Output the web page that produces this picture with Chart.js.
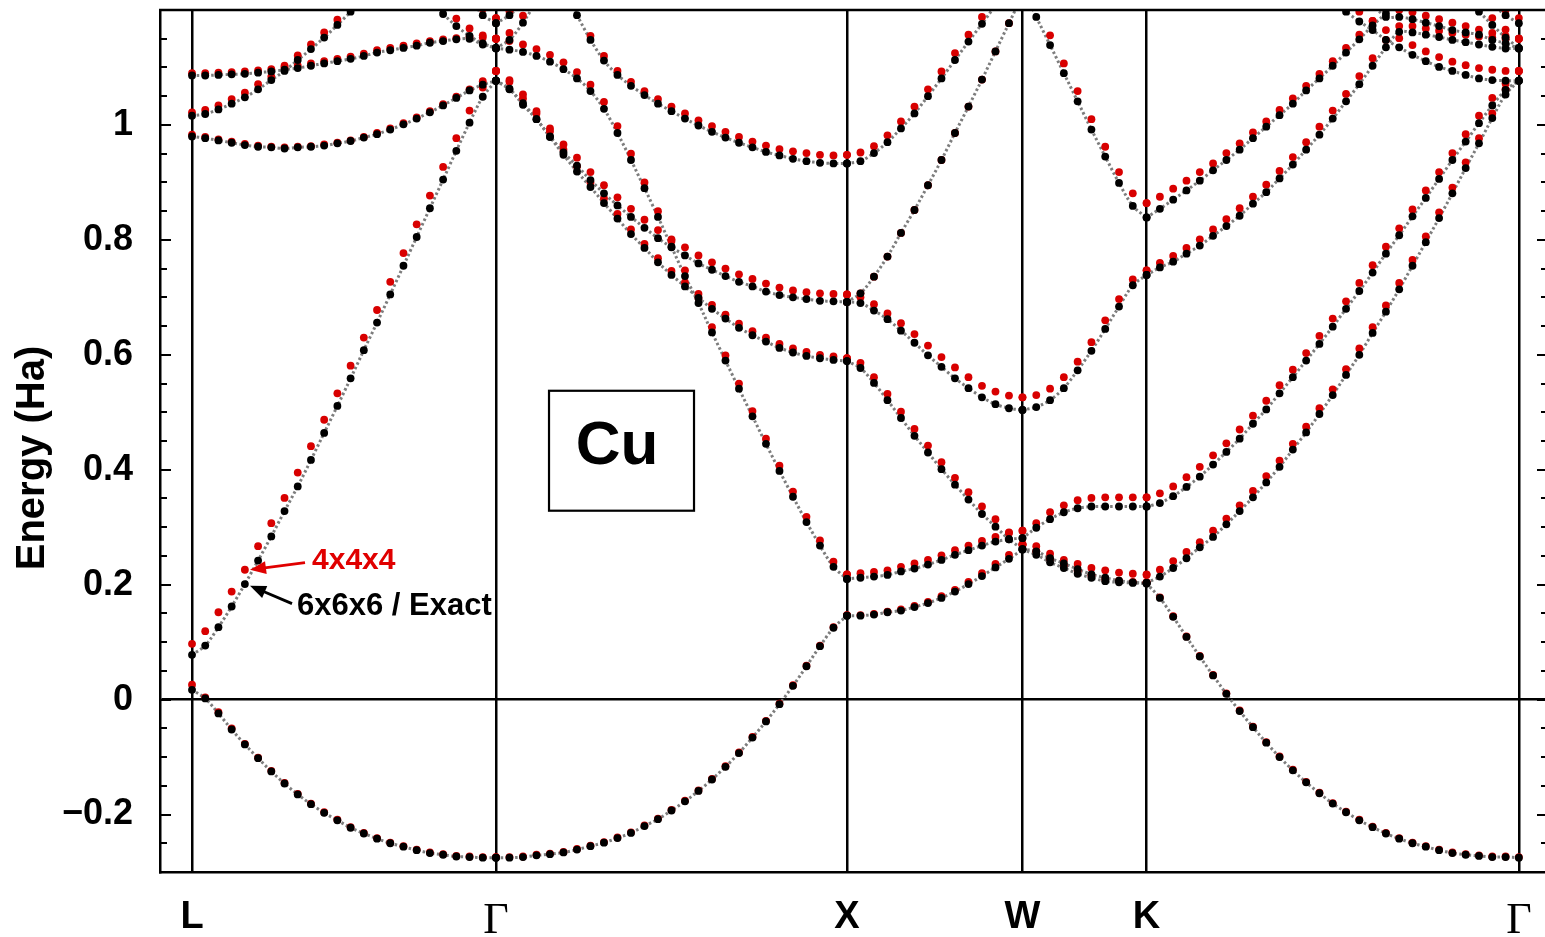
<!DOCTYPE html>
<html>
<head>
<meta charset="utf-8">
<title>Cu bands</title>
<script src="https://cdn.jsdelivr.net/npm/chart.js@4.4.1/dist/chart.umd.min.js"></script>
<style>
  html, body { margin: 0; padding: 0; background: #fff; overflow: hidden; }
  #wrap { width: 1560px; height: 937px; }
</style>
</head>
<body>
<div id="wrap"><canvas id="bands" width="1560" height="937"></canvas></div>
<script>
// k-path through the fcc zone, distances in units of 2pi/a
const symLabels = ["L", "Γ", "X", "W", "K", "Γ"];
const symPos = [0, 0.8660, 1.8660, 2.3660, 2.7196, 3.7802];
const segSteps = [23, 26, 13, 9, 28];   // k-point intervals per segment

// band energies (Ha); "4" suffix = 4x4x4 interpolation, plain = 6x6x6 / exact
// L -> Gamma
const LG_A  = [0.017, 0.002, -0.024, -0.052, -0.078, -0.102, -0.125, -0.146, -0.165, -0.182, -0.197, -0.210, -0.223, -0.233, -0.242, -0.250, -0.256, -0.262, -0.267, -0.270, -0.273, -0.274, -0.275, -0.275];
const LG_A4 = [0.026, 0.004, -0.022, -0.050, -0.077, -0.101, -0.124, -0.145, -0.164, -0.181, -0.196, -0.209, -0.222, -0.232, -0.241, -0.249, -0.255, -0.261, -0.266, -0.269, -0.272, -0.273, -0.274, -0.274];
const LG_B  = [0.078, 0.094, 0.126, 0.162, 0.201, 0.242, 0.284, 0.328, 0.371, 0.417, 0.464, 0.511, 0.559, 0.608, 0.656, 0.705, 0.755, 0.805, 0.855, 0.905, 0.955, 1.004, 1.049, 1.077];
const LG_B4 = [0.097, 0.119, 0.152, 0.188, 0.226, 0.267, 0.307, 0.351, 0.395, 0.441, 0.487, 0.533, 0.581, 0.630, 0.678, 0.727, 0.777, 0.827, 0.877, 0.927, 0.977, 1.025, 1.065, 1.094];
const LG_C  = [0.980, 0.977, 0.973, 0.969, 0.965, 0.962, 0.961, 0.959, 0.961, 0.962, 0.964, 0.968, 0.972, 0.978, 0.984, 0.992, 1.001, 1.011, 1.022, 1.034, 1.047, 1.060, 1.070, 1.077];
const LG_C4 = [0.983, 0.979, 0.975, 0.971, 0.967, 0.964, 0.962, 0.961, 0.962, 0.963, 0.966, 0.969, 0.973, 0.979, 0.986, 0.994, 1.003, 1.013, 1.024, 1.036, 1.049, 1.062, 1.076, 1.094];
const LG_D  = [1.016, 1.019, 1.027, 1.037, 1.048, 1.062, 1.078, 1.094, 1.113, 1.132, 1.152, 1.174, 1.197, 1.222];
const LG_D4 = [1.022, 1.026, 1.034, 1.045, 1.056, 1.071, 1.084, 1.103, 1.121, 1.140, 1.161, 1.183, 1.206];
const LG_E  = [1.086, 1.086, 1.087, 1.088, 1.089, 1.091, 1.093, 1.096, 1.099, 1.103, 1.107, 1.111, 1.115, 1.120, 1.126, 1.130, 1.134, 1.138, 1.143, 1.146, 1.149, 1.150, 1.140, 1.134];
const LG_E4 = [1.090, 1.090, 1.091, 1.092, 1.093, 1.095, 1.097, 1.100, 1.103, 1.107, 1.111, 1.115, 1.119, 1.124, 1.130, 1.134, 1.138, 1.142, 1.146, 1.149, 1.151, 1.153, 1.152, 1.150];
const LG_F  = [1.216, 1.193, 1.172, 1.155, 1.142, 1.134];
const LG_F4 = [1.230, 1.205, 1.185, 1.168, 1.156, 1.150];
const LG_G  = [1.222, 1.191, 1.177];
const LG_G4 = [1.235, 1.202, 1.186];

// Gamma -> X
const GX_A  = [-0.275, -0.275, -0.274, -0.271, -0.269, -0.266, -0.261, -0.255, -0.249, -0.241, -0.232, -0.220, -0.208, -0.193, -0.177, -0.159, -0.139, -0.117, -0.093, -0.066, -0.038, -0.008, 0.024, 0.058, 0.093, 0.125, 0.146];
const GX_A4 = [-0.274, -0.274, -0.273, -0.270, -0.268, -0.265, -0.260, -0.254, -0.248, -0.240, -0.231, -0.219, -0.207, -0.192, -0.176, -0.158, -0.138, -0.116, -0.092, -0.065, -0.037, -0.007, 0.025, 0.059, 0.094, 0.126, 0.147];
const GX_H  = [1.133, 1.131, 1.127, 1.120, 1.110, 1.097, 1.081, 1.059, 1.028, 0.986, 0.939, 0.890, 0.840, 0.788, 0.737, 0.690, 0.639, 0.590, 0.541, 0.493, 0.445, 0.398, 0.353, 0.309, 0.268, 0.231, 0.210];
const GX_H4 = [1.150, 1.146, 1.140, 1.132, 1.122, 1.109, 1.092, 1.070, 1.040, 0.998, 0.950, 0.900, 0.850, 0.798, 0.747, 0.699, 0.648, 0.599, 0.550, 0.502, 0.454, 0.407, 0.362, 0.318, 0.277, 0.240, 0.218];
const GX_I  = [1.077, 1.062, 1.038, 1.010, 0.980, 0.952, 0.929, 0.904, 0.881, 0.860, 0.840, 0.821, 0.803, 0.787, 0.773, 0.759, 0.748, 0.737, 0.727, 0.719, 0.710, 0.704, 0.700, 0.697, 0.694, 0.693, 0.692];
const GX_I4 = [1.094, 1.078, 1.053, 1.024, 0.994, 0.966, 0.943, 0.918, 0.895, 0.874, 0.854, 0.835, 0.817, 0.801, 0.787, 0.773, 0.761, 0.750, 0.740, 0.732, 0.724, 0.717, 0.712, 0.709, 0.707, 0.706, 0.705];
const GX_J  = [1.077, 1.063, 1.035, 1.010, 0.979, 0.948, 0.919, 0.892, 0.864, 0.837, 0.810, 0.786, 0.761, 0.739, 0.719, 0.699, 0.680, 0.663, 0.647, 0.634, 0.623, 0.612, 0.604, 0.598, 0.594, 0.591, 0.589];
const GX_J4 = [1.094, 1.075, 1.046, 1.020, 0.989, 0.957, 0.928, 0.900, 0.872, 0.845, 0.818, 0.793, 0.768, 0.746, 0.726, 0.706, 0.687, 0.670, 0.654, 0.641, 0.630, 0.619, 0.611, 0.605, 0.600, 0.597, 0.594];
const GX_K  = [1.235, 1.191, 1.148, 1.112, 1.087, 1.068, 1.052, 1.037, 1.024, 1.011, 0.999, 0.988, 0.978, 0.969, 0.961, 0.953, 0.947, 0.941, 0.937, 0.934, 0.933, 0.933];
const GX_K4 = [1.250, 1.205, 1.155, 1.120, 1.094, 1.075, 1.059, 1.045, 1.032, 1.020, 1.008, 0.998, 0.988, 0.979, 0.971, 0.964, 0.958, 0.954, 0.951, 0.948, 0.947, 0.948];
const GX_F  = [1.134, 1.148, 1.178, 1.215];
const GX_F4 = [1.150, 1.160, 1.190, 1.228];
const GX_G  = [1.177, 1.191, 1.212];
const GX_G4 = [1.186, 1.198, 1.222];

// X -> W
const XW_A  = [0.146, 0.146, 0.148, 0.152, 0.155, 0.161, 0.168, 0.177, 0.188, 0.201, 0.215, 0.230, 0.245, 0.261];
const XW_A4 = [0.147, 0.147, 0.149, 0.153, 0.157, 0.163, 0.170, 0.180, 0.191, 0.205, 0.220, 0.236, 0.252, 0.270];
const XW_H  = [0.210, 0.212, 0.214, 0.217, 0.223, 0.228, 0.235, 0.243, 0.252, 0.260, 0.268, 0.275, 0.279, 0.281];
const XW_H4 = [0.218, 0.220, 0.222, 0.225, 0.231, 0.237, 0.243, 0.251, 0.260, 0.268, 0.276, 0.283, 0.290, 0.294];
const XW_J  = [0.589, 0.577, 0.551, 0.521, 0.490, 0.459, 0.430, 0.401, 0.374, 0.348, 0.323, 0.301, 0.279, 0.262];
const XW_J4 = [0.594, 0.586, 0.561, 0.532, 0.501, 0.471, 0.442, 0.413, 0.386, 0.361, 0.336, 0.314, 0.291, 0.270];
const XW_I  = [0.692, 0.690, 0.677, 0.662, 0.642, 0.621, 0.599, 0.579, 0.559, 0.542, 0.526, 0.514, 0.507, 0.504];
const XW_I4 = [0.705, 0.700, 0.688, 0.672, 0.655, 0.636, 0.616, 0.596, 0.578, 0.561, 0.546, 0.536, 0.529, 0.526];
const XW_S  = [0.692, 0.707, 0.736, 0.771, 0.812, 0.852, 0.895, 0.939, 0.986, 1.032, 1.079, 1.128, 1.177, 1.226];
const XW_K  = [0.933, 0.937, 0.951, 0.970, 0.994, 1.020, 1.050, 1.081, 1.113, 1.145, 1.176, 1.208];
const XW_K4 = [0.948, 0.952, 0.963, 0.982, 1.006, 1.032, 1.062, 1.093, 1.125, 1.157, 1.188, 1.220];

// W -> K
const WK_N  = [1.240, 1.188, 1.139, 1.090, 1.041, 0.992, 0.945, 0.899, 0.859, 0.839];
const WK_N4 = [1.260, 1.205, 1.156, 1.107, 1.059, 1.010, 0.962, 0.918, 0.881, 0.864];
const WK_I  = [0.504, 0.509, 0.521, 0.542, 0.573, 0.607, 0.645, 0.684, 0.721, 0.739];
const WK_I4 = [0.526, 0.530, 0.541, 0.561, 0.588, 0.622, 0.660, 0.697, 0.731, 0.747];
const WK_H  = [0.281, 0.299, 0.314, 0.326, 0.333, 0.336, 0.336, 0.336, 0.336, 0.336];
const WK_H4 = [0.294, 0.307, 0.326, 0.338, 0.347, 0.351, 0.352, 0.352, 0.352, 0.352];
const WK_J  = [0.262, 0.258, 0.246, 0.237, 0.227, 0.218, 0.212, 0.207, 0.204, 0.203];
const WK_J4 = [0.270, 0.267, 0.254, 0.243, 0.236, 0.229, 0.225, 0.221, 0.219, 0.218];
const WK_A  = [0.261, 0.252, 0.239, 0.229, 0.219, 0.212, 0.206, 0.204, 0.203, 0.202];
const WK_A4 = [0.270, 0.258, 0.245, 0.234, 0.224, 0.216, 0.210, 0.207, 0.205, 0.204];

// K -> Gamma
const KG_A  = [0.202, 0.177, 0.144, 0.109, 0.075, 0.042, 0.010, -0.020, -0.048, -0.075, -0.100, -0.123, -0.144, -0.163, -0.181, -0.196, -0.210, -0.222, -0.233, -0.242, -0.250, -0.256, -0.262, -0.267, -0.270, -0.272, -0.274, -0.274, -0.275];
const KG_A4 = [0.204, 0.178, 0.145, 0.110, 0.076, 0.043, 0.011, -0.019, -0.047, -0.074, -0.099, -0.122, -0.143, -0.162, -0.180, -0.195, -0.209, -0.221, -0.232, -0.241, -0.249, -0.255, -0.261, -0.266, -0.269, -0.271, -0.273, -0.273, -0.274];
const KG_J  = [0.203, 0.214, 0.229, 0.246, 0.265, 0.283, 0.305, 0.328, 0.352, 0.378, 0.405, 0.435, 0.465, 0.497, 0.530, 0.565, 0.600, 0.638, 0.675, 0.714, 0.755, 0.796, 0.838, 0.881, 0.925, 0.968, 1.012, 1.053, 1.077];
const KG_J4 = [0.217, 0.226, 0.241, 0.257, 0.274, 0.294, 0.315, 0.338, 0.363, 0.389, 0.416, 0.445, 0.475, 0.507, 0.540, 0.575, 0.611, 0.648, 0.686, 0.725, 0.765, 0.806, 0.848, 0.891, 0.935, 0.977, 1.020, 1.062, 1.094];
const KG_H  = [0.336, 0.342, 0.354, 0.370, 0.388, 0.409, 0.431, 0.454, 0.480, 0.505, 0.533, 0.561, 0.590, 0.619, 0.649, 0.680, 0.711, 0.743, 0.776, 0.808, 0.841, 0.873, 0.906, 0.939, 0.971, 1.003, 1.034, 1.061, 1.077];
const KG_H4 = [0.352, 0.359, 0.371, 0.387, 0.405, 0.425, 0.446, 0.470, 0.494, 0.520, 0.547, 0.574, 0.603, 0.633, 0.663, 0.693, 0.725, 0.756, 0.788, 0.820, 0.853, 0.886, 0.918, 0.951, 0.984, 1.016, 1.047, 1.072, 1.094];
const KG_I  = [0.739, 0.752, 0.762, 0.776, 0.790, 0.807, 0.824, 0.842, 0.863, 0.883, 0.907, 0.931, 0.957, 0.983, 1.011, 1.041, 1.071, 1.103, 1.135, 1.162, 1.161, 1.157, 1.153, 1.148, 1.144, 1.140, 1.136, 1.133, 1.133];
const KG_I4 = [0.747, 0.760, 0.772, 0.786, 0.801, 0.818, 0.836, 0.855, 0.875, 0.896, 0.920, 0.944, 0.970, 0.997, 1.025, 1.054, 1.085, 1.116, 1.148, 1.172, 1.172, 1.168, 1.164, 1.160, 1.157, 1.154, 1.152, 1.150, 1.150];
const KG_K  = [0.839, 0.854, 0.870, 0.886, 0.903, 0.921, 0.939, 0.957, 0.977, 0.997, 1.017, 1.037, 1.060, 1.081, 1.103, 1.126, 1.149, 1.173, 1.194, 1.215];
const KG_K4 = [0.864, 0.875, 0.889, 0.903, 0.918, 0.933, 0.951, 0.968, 0.987, 1.006, 1.026, 1.046, 1.068, 1.089, 1.111, 1.134, 1.157, 1.181, 1.203, 1.225];
const KG_M  = [1.215, 1.197, 1.180, 1.165, 1.148, 1.135, 1.122, 1.111, 1.101, 1.094, 1.087, 1.081, 1.078, 1.077, 1.077];
const KG_M4 = [1.232, 1.214, 1.197, 1.181, 1.165, 1.151, 1.139, 1.128, 1.118, 1.110, 1.104, 1.099, 1.096, 1.094, 1.094];
const KG_P  = [1.210, 1.188, 1.188, 1.184, 1.178, 1.172, 1.165, 1.161, 1.157, 1.148, 1.142, 1.133];
const KG_P4 = [1.225, 1.202, 1.200, 1.196, 1.190, 1.184, 1.178, 1.172, 1.166, 1.160, 1.155, 1.150];
const KG_Q  = [1.218, 1.197, 1.174, 1.152, 1.134];
const KG_Q4 = [1.228, 1.208, 1.186, 1.166, 1.150];
const KG_G  = [1.210, 1.191, 1.177];
const KG_G4 = [1.222, 1.200, 1.186];

// [segment, first k index, exact, 4x4x4]
const pieces = [
  [0, 0, LG_A, LG_A4], [0, 0, LG_B, LG_B4], [0, 0, LG_C, LG_C4], [0, 0, LG_D, LG_D4],
  [0, 0, LG_E, LG_E4], [0, 18, LG_F, LG_F4], [0, 21, LG_G, LG_G4],
  [1, 0, GX_A, GX_A4], [1, 0, GX_H, GX_H4], [1, 0, GX_I, GX_I4], [1, 0, GX_J, GX_J4],
  [1, 5, GX_K, GX_K4], [1, 0, GX_F, GX_F4], [1, 0, GX_G, GX_G4],
  [2, 0, XW_A, XW_A4], [2, 0, XW_H, XW_H4], [2, 0, XW_J, XW_J4], [2, 0, XW_I, XW_I4],
  [2, 0, XW_S, XW_S], [2, 0, XW_K, XW_K4],
  [3, 0, WK_N, WK_N4], [3, 0, WK_I, WK_I4], [3, 0, WK_H, WK_H4], [3, 0, WK_J, WK_J4], [3, 0, WK_A, WK_A4],
  [4, 0, KG_A, KG_A4], [4, 0, KG_J, KG_J4], [4, 0, KG_H, KG_H4], [4, 0, KG_I, KG_I4],
  [4, 0, KG_K, KG_K4], [4, 14, KG_M, KG_M4], [4, 17, KG_P, KG_P4], [4, 24, KG_Q, KG_Q4], [4, 26, KG_G, KG_G4]
];

const SANS = '"Liberation Sans", Arial, Helvetica, sans-serif';
const SERIF = '"Liberation Serif", "Times New Roman", serif';
const DOT = 3.9;

// abscissa of k-point i on segment s
function kAt(s, i) {
  return symPos[s] + (symPos[s + 1] - symPos[s]) * i / segSteps[s];
}
function toPts(s, start, vals) {
  return vals.map((v, i) => ({ x: kAt(s, start + i), y: v }));
}

const datasets = [];
pieces.forEach(([s, start, exact, coarse]) => {
  // exact: black dots on top
  datasets.push({
    data: toPts(s, start, exact), showLine: false, order: 1, clip: 0,
    pointRadius: DOT, pointBackgroundColor: "#000", pointBorderWidth: 0
  });
  // 4x4x4: red dots
  datasets.push({
    data: toPts(s, start, coarse), showLine: false, order: 2, clip: 0,
    pointRadius: DOT, pointBackgroundColor: "#d80000", pointBorderWidth: 0
  });
  // dotted guide through the exact bands
  datasets.push({
    data: toPts(s, start, exact), showLine: true, order: 3, clip: 0,
    borderColor: "#7d7d7d", borderWidth: 3, borderDash: [2.4, 2.4],
    tension: 0.3, pointRadius: 0
  });
});

function arrow(ctx, x0, y0, x1, y1, color) {
  const a = Math.atan2(y1 - y0, x1 - x0), hl = 16, hw = 6.5;
  ctx.strokeStyle = color; ctx.fillStyle = color; ctx.lineWidth = 2.8;
  ctx.beginPath();
  ctx.moveTo(x0, y0);
  ctx.lineTo(x1 - hl * 0.8 * Math.cos(a), y1 - hl * 0.8 * Math.sin(a));
  ctx.stroke();
  ctx.beginPath();
  ctx.moveTo(x1, y1);
  ctx.lineTo(x1 - hl * Math.cos(a) + hw * Math.sin(a), y1 - hl * Math.sin(a) - hw * Math.cos(a));
  ctx.lineTo(x1 - hl * Math.cos(a) - hw * Math.sin(a), y1 - hl * Math.sin(a) + hw * Math.cos(a));
  ctx.closePath();
  ctx.fill();
}

const isMajor = v => Math.abs(v * 5 - Math.round(v * 5)) < 1e-6;

const decor = {
  id: "decor",
  afterDraw(chart) {
    const { ctx, chartArea: a, scales: { x, y } } = chart;
    const px = v => x.getPixelForValue(v), py = v => y.getPixelForValue(v);
    ctx.save();
    ctx.strokeStyle = "#000";
    ctx.lineWidth = 2.5;
    ctx.beginPath();
    ctx.moveTo(a.left - 1, a.top);
    ctx.lineTo(a.right, a.top);
    ctx.stroke();
    // inward tick marks, left and right frame
    ctx.lineWidth = 2;
    y.ticks.forEach(t => {
      const yy = Math.round(py(t.value));
      const len = isMajor(t.value) ? 11 : 7;
      ctx.beginPath();
      ctx.moveTo(a.left, yy); ctx.lineTo(a.left + len, yy);
      ctx.moveTo(a.right, yy); ctx.lineTo(a.right - len, yy);
      ctx.stroke();
    });

    // material label box
    const bx0 = px(1.0171), bx1 = px(1.4302), by0 = py(0.5374), by1 = py(0.3287);
    ctx.lineWidth = 2.2;
    ctx.strokeRect(bx0, by0, bx1 - bx0, by1 - by0);
    ctx.fillStyle = "#000";
    ctx.font = "bold 62px " + SANS;
    ctx.textAlign = "center";
    ctx.textBaseline = "middle";
    ctx.fillText("Cu", px(1.2108), py(0.440));

    // dataset callouts
    ctx.textAlign = "left";
    ctx.fillStyle = "#e00000";
    ctx.font = "bold 30px " + SANS;
    ctx.fillText("4x4x4", px(0.342), py(0.242));
    arrow(ctx, px(0.3219), py(0.2383), px(0.1652), py(0.2261), "#e00000");
    ctx.fillStyle = "#000";
    ctx.font = "bold 31px " + SANS;
    ctx.fillText("6x6x6 / Exact", px(0.2991), py(0.1617));
    arrow(ctx, px(0.2849), py(0.1670), px(0.1652), py(0.1983), "#000");

    // axis title
    ctx.save();
    ctx.translate(33, 458);
    ctx.rotate(-Math.PI / 2);
    ctx.textAlign = "center";
    ctx.font = "bold 40px " + SANS;
    ctx.fillText("Energy (Ha)", 0, 0);
    ctx.restore();
    ctx.restore();
  }
};

new Chart(document.getElementById("bands"), {
  type: "scatter",
  data: { datasets },
  options: {
    responsive: false,
    animation: false,
    events: [],
    layout: { padding: { top: 10, right: 12, left: 0, bottom: 0 } },
    plugins: { legend: { display: false }, tooltip: { enabled: false } },
    scales: {
      x: {
        type: "linear",
        min: -0.0912,
        max: 3.8632,
        afterBuildTicks: s => { s.ticks = symPos.map(v => ({ value: v })); },
        afterFit: s => { s.height = 65; s.paddingLeft = 0; s.paddingRight = 0; },
        ticks: {
          autoSkip: false, maxRotation: 0, padding: 23, color: "#000",
          callback: (v, i) => symLabels[i],
          font: c => symLabels[c.index] === "Γ"
            ? { family: SERIF, size: 44, weight: "normal" }
            : { family: SANS, size: 38, weight: "bold" }
        },
        grid: { color: "#000", lineWidth: 2.5, drawTicks: false },
        border: { display: true, color: "#000", width: 2.5 }
      },
      y: {
        min: -0.3,
        max: 1.2,
        afterFit: s => { s.width = 160; s.paddingTop = 0; s.paddingBottom = 0; },
        ticks: {
          stepSize: 0.05, autoSkip: false, padding: 27, color: "#000",
          font: { family: SANS, size: 36, weight: "bold" },
          callback: v => {
            const r = Math.round(v * 100) / 100;
            if (!isMajor(r) || r > 1.1) return "";
            return r < 0 ? "\u2212" + String(-r) : String(r);
          }
        },
        grid: {
          drawTicks: false, lineWidth: 2.5,
          color: c => Math.abs(c.tick.value) < 1e-9 ? "#000" : "rgba(0,0,0,0)"
        },
        border: { display: true, color: "#000", width: 2.5 }
      }
    }
  },
  plugins: [decor]
});
</script>
</body>
</html>
